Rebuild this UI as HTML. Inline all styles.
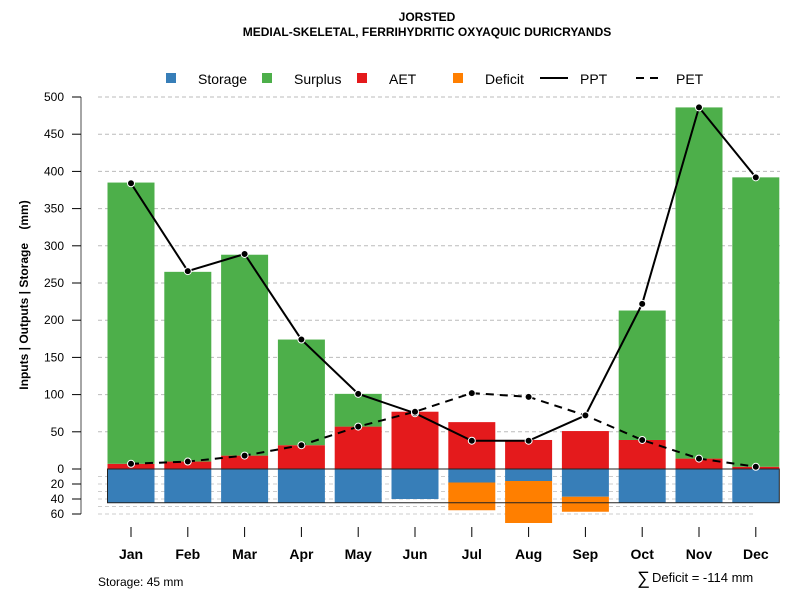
<!DOCTYPE html>
<html><head><meta charset="utf-8"><style>
body{margin:0;background:#fff;font-family:"Liberation Sans",sans-serif}
svg text{font-family:"Liberation Sans",sans-serif}
</style></head><body>
<svg id="c" width="800" height="600" xmlns="http://www.w3.org/2000/svg">
<text x="427" y="21" text-anchor="middle" font-size="12" font-weight="bold">JORSTED</text>
<text x="427" y="36" text-anchor="middle" font-size="12" font-weight="bold">MEDIAL-SKELETAL, FERRIHYDRITIC OXYAQUIC DURICRYANDS</text>
<g id="legend">
<rect x="166" y="73" width="10" height="10" fill="#377EB8"/>
<text x="198" y="84" font-size="14">Storage</text>
<rect x="262" y="73" width="10" height="10" fill="#4DAF4A"/>
<text x="294" y="84" font-size="14">Surplus</text>
<rect x="357" y="73" width="10" height="10" fill="#E41A1C"/>
<text x="389" y="84" font-size="14">AET</text>
<rect x="453" y="73" width="10" height="10" fill="#FF7F00"/>
<text x="485" y="84" font-size="14">Deficit</text>
<line x1="540" y1="78" x2="568" y2="78" stroke="#000" stroke-width="2"/>
<text x="580" y="84" font-size="14">PPT</text>
<line x1="636" y1="78" x2="664" y2="78" stroke="#000" stroke-width="2" stroke-dasharray="8,6"/>
<text x="676" y="84" font-size="14">PET</text>
</g>
<text transform="translate(28,295) rotate(-90)" text-anchor="middle" font-size="12" font-weight="bold" xml:space="preserve" style="white-space:pre">Inputs | Outputs | Storage    (mm)</text>
<text x="98" y="586" font-size="12">Storage: 45 mm</text>
<text x="637" y="584" font-size="18">∑</text>
<text x="652" y="582" font-size="13">Deficit = -114 mm</text>
<g id="plot"></g>
</svg>
<script>
const months=["Jan","Feb","Mar","Apr","May","Jun","Jul","Aug","Sep","Oct","Nov","Dec"];
const ppt=[384,266,289,174,101,75,38,38,72,222,486,392];
const pet=[7,10,18,32,57,77,102,97,72,39,14,3];
const aet=[7,10,18,32,57,77,63,39,51,39,14,3];
const surplus=[378,255,270,142,44,0,0,0,0,174,472,389];
const storage=[45,45,45,45,45,40,18,16,37,45,45,45];
const deficit=[0,0,0,0,0,0,37,56,20,0,0,0];
const yTicks=[0,50,100,150,200,250,300,350,400,450,500];
const yTicksNeg=[20,40,60];
const NS="http://www.w3.org/2000/svg";
const g=document.getElementById('plot');
const y0=469,k=0.744,kn=0.75;
const y=v=>y0-v*k, yn=v=>y0+v*kn;
const x=i=>131+i*56.8;
const bw=47;
function mk(t,a){const e=document.createElementNS(NS,t);for(const n in a)e.setAttribute(n,a[n]);g.appendChild(e);return e;}
yTicks.forEach(v=>{if(v>0){const l=mk('line',{x1:98,x2:780,y1:y(v),y2:y(v),stroke:'#bbb','stroke-dasharray':'4,3'});

}});
for(let v=10;v<=60;v+=10){const l=mk('line',{x1:98,x2:755,y1:yn(v),y2:yn(v),stroke:'#ccc','stroke-dasharray':'4,3'});

}
const ax=mk('line',{x1:81,x2:81,y1:y(500),y2:yn(60),stroke:'#888','stroke-width':1.5});


yTicks.forEach(v=>{mk('line',{x1:72,x2:81,y1:y(v),y2:y(v),stroke:'#000'});
const t=mk('text',{x:64,y:y(v)+4,'text-anchor':'end','font-size':12});t.textContent=v;

});
yTicksNeg.forEach(v=>{mk('line',{x1:72,x2:81,y1:yn(v),y2:yn(v),stroke:'#000'});
const t=mk('text',{x:64,y:yn(v)+4,'text-anchor':'end','font-size':12});t.textContent=v;

});
months.forEach((m,i)=>{
 const cx=x(i);
 const r1=mk('rect',{x:cx-bw/2,y:y(aet[i]),width:bw,height:aet[i]*k,fill:'#E41A1C'});
 
 
 const r2=mk('rect',{x:cx-bw/2,y:y(aet[i]+surplus[i]),width:bw,height:surplus[i]*k,fill:'#4DAF4A'});
 
 
 const r3=mk('rect',{x:cx-bw/2,y:y0,width:bw,height:storage[i]*kn,fill:'#377EB8'});
 
 
 const r4=mk('rect',{x:cx-bw/2,y:yn(storage[i]),width:bw,height:deficit[i]*kn,fill:'#FF7F00'});
 
 
 mk('line',{x1:cx,x2:cx,y1:527,y2:537,stroke:'#000'});
 const t=mk('text',{x:cx,y:559,'text-anchor':'middle','font-size':14,'font-weight':'bold'});t.textContent=m;
 
 
});
const box=mk('rect',{x:x(0)-bw/2,y:y0,width:x(11)+bw/2-(x(0)-bw/2),height:45*kn,fill:'none',stroke:'#222','stroke-width':1});


const pl=mk('polyline',{points:ppt.map((v,i)=>x(i)+','+y(v)).join(' '),fill:'none',stroke:'#000','stroke-width':2});


const el=mk('polyline',{points:pet.map((v,i)=>x(i)+','+y(v)).join(' '),fill:'none',stroke:'#000','stroke-width':2,'stroke-dasharray':'8,6'});


[ppt,pet].forEach((s,si)=>s.forEach((v,i)=>{const c=mk('circle',{cx:x(i),cy:y(v),r:3.5,fill:'#000',stroke:'#fff','stroke-width':1});

}));
</script>
</body></html>
